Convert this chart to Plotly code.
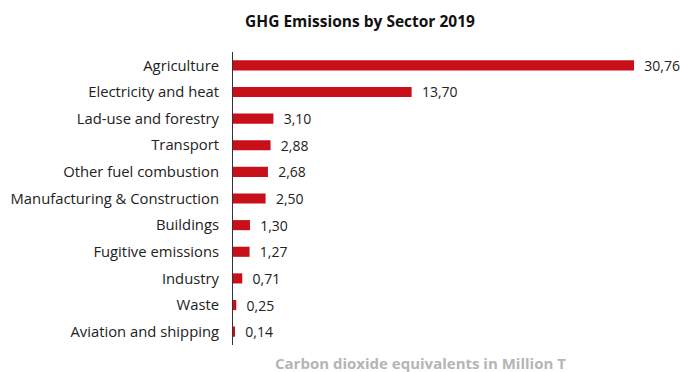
import plotly.graph_objects as go

categories = ["Agriculture", "Electricity and heat", "Lad-use and forestry", "Transport",
              "Other fuel combustion", "Manufacturing & Construction", "Buildings",
              "Fugitive emissions", "Industry", "Waste", "Aviation and shipping"]
values = [30.76, 13.70, 3.10, 2.88, 2.68, 2.50, 1.30, 1.27, 0.71, 0.25, 0.14]
labels = ["  " + f"{v:.2f}".replace(".", ",") for v in values]

FONT = "'Open Sans', sans-serif"

fig = go.Figure(go.Bar(
    x=values, y=categories, orientation="h",
    marker=dict(color="#c8101a", line=dict(width=0)),
    width=0.38,
    text=labels, textposition="outside", cliponaxis=False, constraintext="none",
    textfont=dict(family=FONT, size=14, color="#222222"),
))

fig.update_layout(
    width=680, height=372,
    margin=dict(l=233, r=20, t=52, b=27),
    paper_bgcolor="white", plot_bgcolor="white",
    showlegend=False,
    title=dict(text="<b>GHG Emissions by Sector 2019</b>", x=360/680, xanchor="center",
               y=1 - 22/372, yanchor="middle",
               font=dict(family=FONT, size=15.5, color="#111111")),
    xaxis=dict(range=[0, 32.75], showgrid=False, zeroline=False, showticklabels=False,
               showline=False, ticks=""),
    yaxis=dict(autorange="reversed", showgrid=False, zeroline=False,
               showline=True, linecolor="#333333", linewidth=1,
               ticks="", ticklabelstandoff=10,
               tickfont=dict(family=FONT, size=14.8, color="#222222")),
    bargap=0.6,
    annotations=[dict(text="<b>Carbon dioxide equivalents in Million T</b>",
                      xref="paper", yref="paper", x=(420-233)/427, y=-18/293,
                      xanchor="center", yanchor="middle", showarrow=False,
                      font=dict(family=FONT, size=15, color="#b5b5b5"))],
)

fig.write_html("out.html")
